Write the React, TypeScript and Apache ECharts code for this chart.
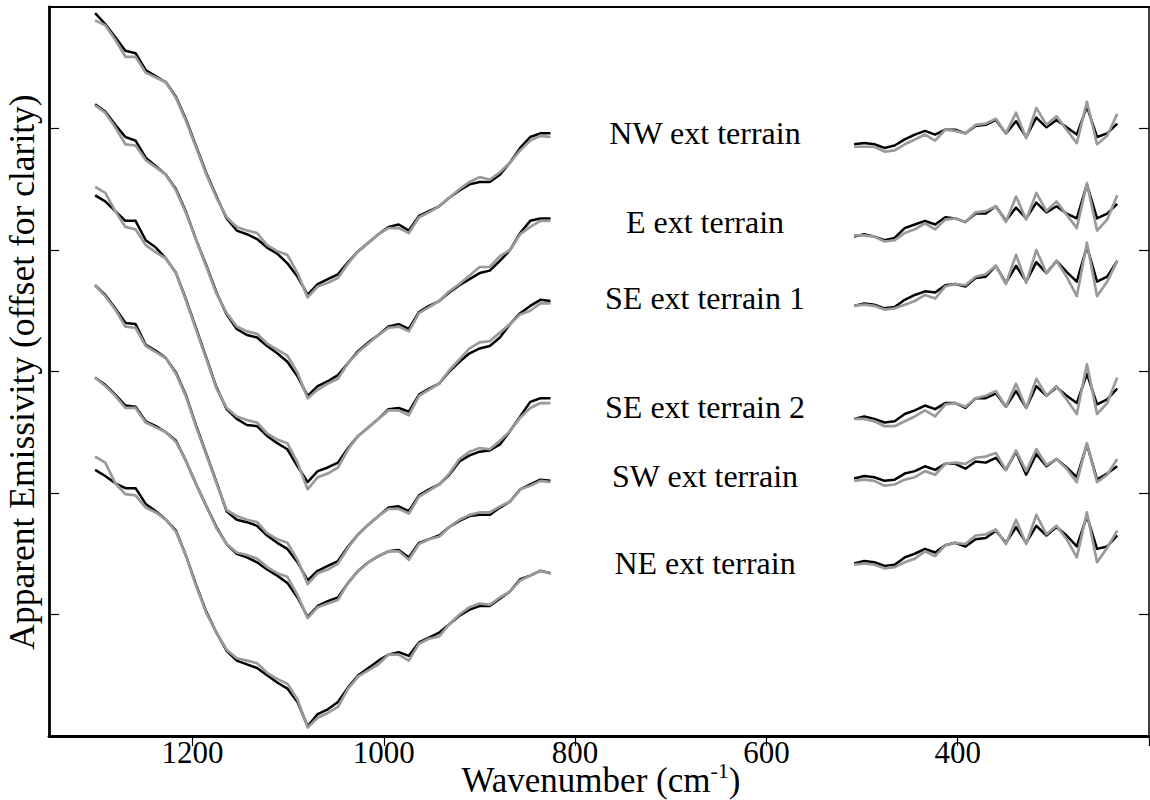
import React, { useEffect, useRef } from "react";
import * as echarts from "echarts";

// Wavenumber sampling (cm-1), TES-like channels
const wnLeft = [1301.8, 1291.2, 1280.7, 1270.1, 1259.5, 1248.9, 1238.3, 1227.8, 1217.2, 1206.6, 1196.0, 1185.4, 1174.9, 1164.3, 1153.7, 1143.1, 1132.5, 1122.0, 1111.4, 1100.8, 1090.2, 1079.6, 1069.1, 1058.5, 1047.9, 1037.3, 1026.7, 1016.1, 1005.6, 995.0, 984.4, 973.8, 963.2, 952.7, 942.1, 931.5, 920.9, 910.3, 899.8, 889.2, 878.6, 868.0, 857.4, 846.9, 836.3, 825.7];
const wnRight = [508.3, 497.7, 487.1, 476.5, 465.9, 455.4, 444.8, 434.2, 423.6, 413.0, 402.5, 391.9, 381.3, 370.7, 360.1, 349.6, 339.0, 328.4, 317.8, 307.2, 296.7, 286.1, 275.5, 264.9, 254.3, 243.7, 233.2];

// Offset apparent emissivity (axis units), black = measured, gray = model
const nwBlackL = [5.95, 5.86, 5.75, 5.64, 5.62, 5.48, 5.43, 5.38, 5.26, 5.07, 4.85, 4.63, 4.44, 4.26, 4.16, 4.13, 4.09, 4.02, 3.97, 3.89, 3.78, 3.63, 3.72, 3.76, 3.80, 3.90, 3.99, 4.06, 4.13, 4.19, 4.21, 4.16, 4.28, 4.32, 4.36, 4.43, 4.49, 4.54, 4.56, 4.56, 4.62, 4.72, 4.84, 4.93, 4.96, 4.96];
const nwGrayL = [5.89, 5.85, 5.73, 5.59, 5.59, 5.46, 5.42, 5.38, 5.25, 5.06, 4.84, 4.62, 4.43, 4.27, 4.19, 4.16, 4.14, 4.04, 3.99, 3.96, 3.81, 3.61, 3.70, 3.73, 3.77, 3.89, 3.99, 4.06, 4.13, 4.18, 4.18, 4.14, 4.27, 4.31, 4.36, 4.43, 4.50, 4.56, 4.60, 4.58, 4.64, 4.72, 4.82, 4.90, 4.94, 4.93];
const eBlackL = [5.20, 5.14, 5.03, 4.93, 4.90, 4.76, 4.69, 4.62, 4.50, 4.31, 4.08, 3.87, 3.65, 3.47, 3.35, 3.30, 3.28, 3.21, 3.15, 3.08, 2.96, 2.80, 2.88, 2.92, 2.97, 3.07, 3.17, 3.24, 3.30, 3.37, 3.39, 3.35, 3.49, 3.54, 3.58, 3.65, 3.71, 3.76, 3.81, 3.83, 3.91, 4.00, 4.14, 4.24, 4.26, 4.26];
const eGrayL = [5.19, 5.13, 5.01, 4.87, 4.86, 4.74, 4.68, 4.62, 4.49, 4.30, 4.08, 3.86, 3.64, 3.48, 3.37, 3.33, 3.31, 3.23, 3.18, 3.13, 2.99, 2.78, 2.85, 2.90, 2.94, 3.07, 3.16, 3.23, 3.30, 3.36, 3.37, 3.33, 3.48, 3.53, 3.58, 3.66, 3.72, 3.79, 3.86, 3.86, 3.95, 4.00, 4.13, 4.19, 4.24, 4.24];
const se1BlackL = [4.45, 4.40, 4.32, 4.24, 4.24, 4.08, 4.02, 3.93, 3.81, 3.59, 3.35, 3.11, 2.87, 2.69, 2.61, 2.56, 2.55, 2.47, 2.41, 2.36, 2.22, 2.09, 2.18, 2.21, 2.25, 2.37, 2.47, 2.54, 2.61, 2.69, 2.70, 2.67, 2.81, 2.86, 2.90, 3.00, 3.08, 3.15, 3.19, 3.21, 3.28, 3.39, 3.48, 3.54, 3.59, 3.58];
const se1GrayL = [4.52, 4.47, 4.32, 4.19, 4.17, 4.04, 3.98, 3.93, 3.81, 3.58, 3.34, 3.10, 2.86, 2.70, 2.63, 2.60, 2.58, 2.49, 2.44, 2.41, 2.25, 2.03, 2.13, 2.16, 2.21, 2.36, 2.47, 2.54, 2.61, 2.68, 2.68, 2.64, 2.80, 2.85, 2.90, 3.01, 3.10, 3.19, 3.24, 3.25, 3.32, 3.39, 3.47, 3.50, 3.56, 3.56];
const se2BlackL = [3.71, 3.63, 3.52, 3.40, 3.39, 3.22, 3.17, 3.11, 2.99, 2.80, 2.55, 2.32, 2.09, 1.85, 1.78, 1.76, 1.73, 1.65, 1.59, 1.54, 1.43, 1.28, 1.36, 1.40, 1.44, 1.56, 1.66, 1.74, 1.81, 1.88, 1.89, 1.85, 1.98, 2.03, 2.07, 2.15, 2.26, 2.31, 2.34, 2.35, 2.40, 2.51, 2.63, 2.75, 2.78, 2.78];
const se2GrayL = [3.71, 3.62, 3.51, 3.37, 3.36, 3.21, 3.16, 3.11, 2.98, 2.79, 2.54, 2.31, 2.08, 1.86, 1.81, 1.78, 1.76, 1.67, 1.62, 1.59, 1.45, 1.25, 1.34, 1.37, 1.42, 1.55, 1.66, 1.74, 1.81, 1.87, 1.87, 1.83, 1.97, 2.02, 2.07, 2.16, 2.28, 2.34, 2.37, 2.36, 2.43, 2.51, 2.62, 2.70, 2.74, 2.74];
const swBlackL = [2.95, 2.89, 2.81, 2.72, 2.71, 2.59, 2.55, 2.50, 2.43, 2.26, 2.07, 1.89, 1.72, 1.58, 1.50, 1.47, 1.43, 1.37, 1.32, 1.26, 1.14, 0.98, 1.07, 1.11, 1.14, 1.26, 1.36, 1.43, 1.48, 1.52, 1.53, 1.47, 1.59, 1.62, 1.65, 1.72, 1.77, 1.81, 1.82, 1.82, 1.88, 1.93, 2.03, 2.07, 2.11, 2.10];
const swGrayL = [2.95, 2.88, 2.80, 2.70, 2.70, 2.58, 2.54, 2.50, 2.42, 2.26, 2.07, 1.89, 1.71, 1.58, 1.51, 1.49, 1.46, 1.39, 1.34, 1.31, 1.16, 0.97, 1.06, 1.09, 1.12, 1.26, 1.36, 1.43, 1.48, 1.52, 1.52, 1.45, 1.58, 1.62, 1.64, 1.72, 1.78, 1.82, 1.84, 1.84, 1.89, 1.93, 2.03, 2.06, 2.10, 2.09];
const neBlackL = [2.19, 2.14, 2.08, 2.04, 2.04, 1.91, 1.85, 1.78, 1.69, 1.48, 1.24, 1.02, 0.85, 0.70, 0.62, 0.59, 0.56, 0.50, 0.44, 0.39, 0.28, 0.08, 0.18, 0.22, 0.28, 0.40, 0.50, 0.56, 0.62, 0.67, 0.69, 0.66, 0.77, 0.81, 0.85, 0.92, 0.99, 1.04, 1.07, 1.07, 1.13, 1.19, 1.29, 1.32, 1.36, 1.34];
const neGrayL = [2.30, 2.25, 2.08, 1.99, 1.98, 1.88, 1.84, 1.78, 1.68, 1.48, 1.23, 1.01, 0.85, 0.71, 0.64, 0.62, 0.60, 0.52, 0.47, 0.43, 0.30, 0.07, 0.15, 0.19, 0.24, 0.39, 0.49, 0.54, 0.59, 0.67, 0.67, 0.62, 0.76, 0.80, 0.82, 0.92, 1.00, 1.06, 1.09, 1.08, 1.14, 1.19, 1.28, 1.32, 1.36, 1.34];

const nwBlackR = [4.87, 4.88, 4.87, 4.84, 4.86, 4.91, 4.95, 4.98, 4.95, 4.99, 4.99, 4.96, 5.02, 5.03, 5.07, 4.96, 5.06, 4.93, 5.09, 5.01, 5.07, 5.01, 4.95, 5.18, 4.93, 4.96, 5.04];
const nwGrayR = [4.85, 4.85, 4.85, 4.81, 4.82, 4.87, 4.91, 4.95, 4.90, 4.99, 4.98, 4.96, 5.03, 5.04, 5.08, 4.96, 5.13, 4.92, 5.17, 5.03, 5.10, 4.99, 4.88, 5.22, 4.87, 4.94, 5.12];
const eBlackR = [4.11, 4.13, 4.11, 4.08, 4.10, 4.18, 4.21, 4.24, 4.21, 4.27, 4.26, 4.23, 4.30, 4.30, 4.36, 4.24, 4.35, 4.26, 4.39, 4.31, 4.36, 4.30, 4.26, 4.54, 4.26, 4.30, 4.38];
const eGrayR = [4.12, 4.12, 4.11, 4.07, 4.08, 4.14, 4.17, 4.22, 4.17, 4.25, 4.26, 4.23, 4.31, 4.32, 4.36, 4.23, 4.44, 4.25, 4.47, 4.32, 4.40, 4.29, 4.18, 4.55, 4.16, 4.25, 4.45];
const se1BlackR = [3.54, 3.56, 3.55, 3.52, 3.53, 3.59, 3.63, 3.66, 3.65, 3.71, 3.72, 3.70, 3.77, 3.78, 3.87, 3.73, 3.87, 3.74, 3.90, 3.81, 3.91, 3.82, 3.74, 4.03, 3.74, 3.78, 3.91];
const se1GrayR = [3.54, 3.55, 3.54, 3.51, 3.52, 3.55, 3.58, 3.63, 3.60, 3.70, 3.72, 3.71, 3.78, 3.80, 3.87, 3.72, 3.96, 3.73, 4.00, 3.81, 3.91, 3.78, 3.62, 4.06, 3.62, 3.74, 3.91];
const se2BlackR = [2.61, 2.63, 2.61, 2.58, 2.59, 2.65, 2.68, 2.72, 2.69, 2.74, 2.74, 2.70, 2.78, 2.78, 2.82, 2.71, 2.84, 2.70, 2.88, 2.80, 2.87, 2.80, 2.74, 2.98, 2.73, 2.77, 2.86];
const se2GrayR = [2.61, 2.61, 2.59, 2.55, 2.55, 2.59, 2.63, 2.68, 2.63, 2.73, 2.74, 2.71, 2.78, 2.80, 2.84, 2.71, 2.90, 2.70, 2.94, 2.80, 2.88, 2.77, 2.65, 3.06, 2.65, 2.74, 2.95];
const swBlackR = [2.12, 2.14, 2.13, 2.10, 2.11, 2.16, 2.18, 2.22, 2.19, 2.24, 2.24, 2.20, 2.26, 2.25, 2.29, 2.19, 2.34, 2.15, 2.32, 2.22, 2.28, 2.21, 2.13, 2.40, 2.11, 2.16, 2.22];
const swGrayR = [2.10, 2.11, 2.10, 2.06, 2.07, 2.11, 2.13, 2.18, 2.15, 2.24, 2.25, 2.24, 2.29, 2.30, 2.33, 2.19, 2.35, 2.18, 2.36, 2.23, 2.28, 2.20, 2.09, 2.41, 2.09, 2.15, 2.28];
const neBlackR = [1.42, 1.44, 1.43, 1.40, 1.41, 1.47, 1.50, 1.54, 1.51, 1.57, 1.59, 1.56, 1.62, 1.63, 1.69, 1.59, 1.72, 1.59, 1.73, 1.65, 1.72, 1.65, 1.56, 1.81, 1.54, 1.56, 1.65];
const neGrayR = [1.41, 1.42, 1.41, 1.38, 1.39, 1.43, 1.46, 1.52, 1.48, 1.57, 1.59, 1.58, 1.65, 1.66, 1.70, 1.58, 1.78, 1.58, 1.82, 1.66, 1.73, 1.62, 1.47, 1.84, 1.43, 1.55, 1.69];

const labelNames = ["NW ext terrain", "E ext terrain", "SE ext terrain 1", "SE ext terrain 2", "SW ext terrain", "NE ext terrain"];
const xTicks = [200, 400, 600, 800, 1000, 1200];
const xTickLabels = [400, 600, 800, 1000, 1200];
const yTicks = [1, 2, 3, 4, 5];

const spectra = [
  { bl: nwBlackL, gl: nwGrayL, br: nwBlackR, gr: nwGrayR },
  { bl: eBlackL, gl: eGrayL, br: eBlackR, gr: eGrayR },
  { bl: se1BlackL, gl: se1GrayL, br: se1BlackR, gr: se1GrayR },
  { bl: se2BlackL, gl: se2GrayL, br: se2BlackR, gr: se2GrayR },
  { bl: swBlackL, gl: swGrayL, br: swBlackR, gr: swGrayR },
  { bl: neBlackL, gl: neGrayL, br: neBlackR, gr: neGrayR },
];

const SERIF = "Liberation Serif";

function measure(text: string, size: number): number {
  const c = document.createElement("canvas").getContext("2d");
  if (!c) return text.length * size * 0.5;
  c.font = `${size}px "${SERIF}"`;
  return c.measureText(text).width;
}

export default function App() {
  const ref = useRef<HTMLDivElement>(null);
  useEffect(() => {
    if (!ref.current) return;
    const chart = echarts.init(ref.current, null, { renderer: "svg" });
    const pair = (xs: number[], ys: number[]) => xs.map((x, i) => [x, ys[i]]);
    const series: any[] = [];
    const mk = (name: string, data: number[][], color: string, width: number, z: number) => ({
      type: "line",
      name,
      data,
      showSymbol: false,
      symbol: "none",
      silent: true,
      animation: false,
      lineStyle: { color, width, join: "round" },
      z,
    });
    spectra.forEach((s, i) => {
      series.push(mk(labelNames[i] + " measured", pair(wnLeft, s.bl), "#000000", 2.5, 2));
      series.push(mk(labelNames[i] + " measured", pair(wnRight, s.br), "#000000", 2.5, 2));
    });
    spectra.forEach((s, i) => {
      series.push(mk(labelNames[i] + " model", pair(wnLeft, s.gl), "#9a9a9a", 2.7, 3));
      series.push(mk(labelNames[i] + " model", pair(wnRight, s.gr), "#9a9a9a", 2.7, 3));
    });

    const labelY = [133, 222, 298, 407, 476, 563];
    const textStyle = (text: string, size: number, align = "center", lh?: number) => ({
      text,
      fontFamily: SERIF,
      fontSize: size,
      lineHeight: lh ?? size,
      fill: "#000",
      align,
      verticalAlign: "middle",
      textAlign: align,
      textVerticalAlign: "middle",
    });
    const graphic: any[] = labelNames.map((t, i) => ({
      type: "text",
      x: 705,
      y: labelY[i],
      silent: true,
      style: textStyle(t, 32),
    }));
    graphic.push({
      type: "text",
      x: 22,
      y: 372,
      rotation: Math.PI / 2,
      silent: true,
      style: textStyle("Apparent Emissivity (offset for clarity)", 35.5, "center", 30),
    });

    // x-axis title with superscript -1, built from three texts
    const tMain = "Wavenumber (cm";
    const tSup = "-1";
    const tEnd = ")";
    const fMain = 35;
    const fSup = 22;
    const w1 = measure(tMain, fMain);
    const w2 = measure(tSup, fSup);
    const w3 = measure(tEnd, fMain);
    const x0 = 601 - (w1 + w2 + w3) / 2;
    const yTitle = 780;
    graphic.push({ type: "text", x: x0, y: yTitle, silent: true, style: textStyle(tMain, fMain, "left", 28) });
    graphic.push({ type: "text", x: x0 + w1, y: yTitle - 10, silent: true, style: textStyle(tSup, fSup, "left", 18) });
    graphic.push({ type: "text", x: x0 + w1 + w2, y: yTitle, silent: true, style: textStyle(tEnd, fMain, "left", 28) });

    const xAxisBase = {
      type: "value",
      inverse: true,
      min: 200,
      max: 1350,
      interval: 200,
      splitLine: { show: false },
    };
    chart.setOption({
      animation: false,
      backgroundColor: "#ffffff",
      grid: { left: 49, right: 1, top: 7, bottom: 64, containLabel: false },
      xAxis: [
        {
          ...xAxisBase,
          position: "bottom",
          axisLine: { show: true, onZero: false, lineStyle: { color: "#000", width: 2.8 } },
          axisTick: { show: true, inside: false, length: 10, customValues: xTicks, lineStyle: { color: "#000", width: 1.2 } },
          axisLabel: {
            show: true,
            customValues: xTickLabels,
            formatter: (v: number) => String(v),
            color: "#000",
            fontFamily: SERIF,
            fontSize: 31,
            lineHeight: 25,
            margin: 4,
          },
        },
        {
          ...xAxisBase,
          position: "top",
          axisLine: { show: true, onZero: false, lineStyle: { color: "#000", width: 2.2 } },
          axisTick: { show: false },
          axisLabel: { show: false },
        },
      ],
      yAxis: [
        {
          type: "value",
          min: 0,
          max: 6,
          interval: 1,
          position: "left",
          axisLine: { show: true, onZero: false, lineStyle: { color: "#000", width: 2.8 } },
          axisTick: { show: true, inside: true, length: 10, customValues: yTicks, lineStyle: { color: "#000", width: 1.2 } },
          axisLabel: { show: false },
          splitLine: { show: false },
        },
        {
          type: "value",
          min: 0,
          max: 6,
          interval: 1,
          position: "right",
          axisLine: { show: true, onZero: false, lineStyle: { color: "#000", width: 1.5 } },
          axisTick: { show: true, inside: true, length: 10, customValues: yTicks, lineStyle: { color: "#000", width: 1.2 } },
          axisLabel: { show: false },
          splitLine: { show: false },
        },
      ],
      series,
      graphic,
    });
    return () => chart.dispose();
  }, []);
  return (
    <div
      ref={ref}
      style={{ position: "absolute", left: 0, top: 0, width: 1150, height: 800, background: "#fff" }}
    />
  );
}
